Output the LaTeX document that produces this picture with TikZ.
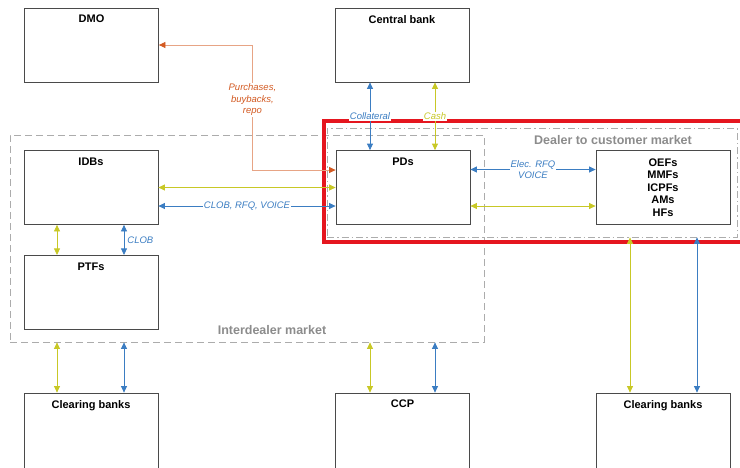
\documentclass[tikz,border=0pt]{standalone}
\usepackage{fontspec}
\setmainfont{Liberation Sans}
\usepackage{xcolor}
\usetikzlibrary{arrows.meta, positioning, calc}

\definecolor{flowblue}{HTML}{3B7DC2}
\definecolor{flowyellow}{HTML}{C8C826}
\definecolor{floworange}{HTML}{D35A22}
\definecolor{boxgray}{HTML}{4A4A4A}
\definecolor{markgray}{HTML}{8C8C8C}
\definecolor{framered}{HTML}{E5161F}

\begin{document}
\begin{tikzpicture}[
    x=1pt, y=-1pt,
    node distance=30pt and 178pt,
    >={Triangle[length=6.5pt, width=6pt]},
    box/.style={rectangle, draw=boxgray, line width=0.8pt, fill=white, minimum width=134pt, minimum height=74pt, inner sep=0pt},
    title/.style={anchor=north, inner sep=0pt, yshift=-7.5pt, font=\fontsize{11}{12.5}\selectfont\bfseries},
    fundbox/.style={box, align=center, font=\fontsize{11}{12.5}\selectfont\bfseries},
    market/.style={rectangle, draw=gray!65, line width=0.8pt, inner sep=0pt},
    marketlabel/.style={text=markgray, font=\fontsize{12.5}{14}\selectfont\bfseries},
    flowlabel/.style={fill=white, inner sep=1pt, align=center, font=\fontsize{9.5}{11.5}\selectfont\itshape},
    barrow/.style={<->, draw=flowblue, line width=0.8pt},
    yarrow/.style={<->, draw=flowyellow, line width=0.8pt},
    oarrow/.style={{Triangle[length=6.5pt, width=6pt, color=floworange]}-{Triangle[length=6.5pt, width=6pt, color=floworange]}, draw=floworange!55, line width=0.8pt}
]
\useasboundingbox (0,0) rectangle (740,467);

% Market frames
\node[market, dash pattern=on 7pt off 4pt, minimum width=474pt, minimum height=207pt] (idm) at (247,238.5) {};
\node[market, dash pattern=on 7pt off 3pt on 1.5pt off 3pt, minimum width=410pt, minimum height=109pt] (dcm) at (532,182.5) {};
\node[marketlabel] at ([xshift=25pt, yshift=12pt]idm.south) {Interdealer market};
\node[marketlabel] at ([xshift=81pt, yshift=-12pt]dcm.north) {Dealer to customer market};
\draw[framered, line width=3.2pt] (324,121) rectangle (742,242);

% Top row
\node[box, label={[title]north:DMO}] (dmo) at (91.5,45) {};
\node[box, label={[title]north:Central bank}] (cb) at (402,45) {};

% Dealers
\node[box, label={[title]north:IDBs}] (idbs) at (91,187.5) {};
\node[box, below=30pt of idbs, label={[title]north:PTFs}] (ptfs) {};
\node[box, label={[title]north:PDs}] (pds) at (403,187.5) {};
\node[fundbox] (funds) at (663,187.5) {OEFs\\MMFs\\ICPFs\\AMs\\HFs};

% Clearing
\node[box, minimum height=78pt, label={[title]north:Clearing banks}] (clearL) at (91,432) {};
\node[box, minimum height=78pt, label={[title]north:CCP}] (ccp) at (402.5,432) {};
\node[box, minimum height=78pt, label={[title]north:Clearing banks}] (clearR) at (663,432) {};

% Arrows
\draw[oarrow] (dmo.east) -- ++(93.5,0) |- node[flowlabel, text=floworange, pos=0.22] {Purchases,\\buybacks,\\repo} ([yshift=17.5pt]pds.west);
\draw[barrow] ([xshift=-32pt]cb.south) -- node[flowlabel, text=flowblue] {Collateral} ([xshift=-32pt]cb.south |- pds.north);
\draw[yarrow] ([xshift=33pt]cb.south) -- node[flowlabel, text=flowyellow] {Cash} ([xshift=33pt]cb.south |- pds.north);
\draw[yarrow] (idbs.east) -- (pds.west);
\draw[barrow] ([yshift=-18.5pt]idbs.east) -- node[flowlabel, text=flowblue] {CLOB, RFQ, VOICE} ([yshift=-18.5pt]pds.west);
\draw[yarrow] ([xshift=-34pt]idbs.south) -- ([xshift=-34pt]ptfs.north);
\draw[barrow] ([xshift=33pt]idbs.south) -- node[flowlabel, fill=none, text=flowblue, right, xshift=2pt] {CLOB} ([xshift=33pt]ptfs.north);
\draw[barrow] ([yshift=18pt]pds.east) -- node[flowlabel, text=flowblue] {Elec. RFQ\\VOICE} ([yshift=18pt]funds.west);
\draw[yarrow] ([yshift=-18.5pt]pds.east) -- ([yshift=-18.5pt]funds.west);
\draw[yarrow] ([xshift=-34pt]clearL.north |- idm.south) -- ([xshift=-34pt]clearL.north);
\draw[barrow] ([xshift=33pt]clearL.north |- idm.south) -- ([xshift=33pt]clearL.north);
\draw[yarrow] ([xshift=-32.5pt]ccp.north |- idm.south) -- ([xshift=-32.5pt]ccp.north);
\draw[barrow] ([xshift=32.5pt]ccp.north |- idm.south) -- ([xshift=32.5pt]ccp.north);
\draw[yarrow] ([xshift=-33pt]clearR.north |- dcm.south) -- ([xshift=-33pt]clearR.north);
\draw[barrow] ([xshift=34pt]clearR.north |- dcm.south) -- ([xshift=34pt]clearR.north);

\end{tikzpicture}
\end{document}
